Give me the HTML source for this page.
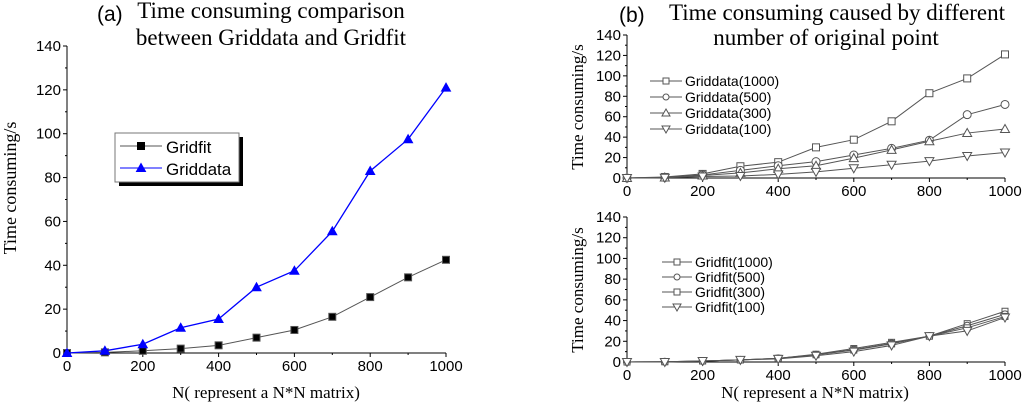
<!DOCTYPE html>
<html><head><meta charset="utf-8"><style>
body{margin:0;background:#fff;width:1024px;height:402px;overflow:hidden}
svg{display:block}
.s{font-family:"Liberation Sans",sans-serif}
.r{font-family:"Liberation Serif",serif}
</style></head><body>
<svg id="c" width="1024" height="402" viewBox="0 0 1024 402"></svg>
<script>
const xCats=[0,100,200,300,400,500,600,700,800,900,1000];
const xTicks=[0,200,400,600,800,1000];
const yTicks=[0,20,40,60,80,100,120,140];
const gridfitA=[0,0.3,1,2,3.5,7,10.5,16.5,25.5,34.5,42.5];
const griddataA=[0,1,4,11.5,15.5,30,37.5,55.5,83,97.5,121];
const gd1000=[0,1,4,11.5,15.5,30,37.5,55.5,83,97.5,121];
const gd500=[0,0.5,3,7.5,12,16,22.5,29,37,62,72];
const gd300=[0,0.5,2.5,5,9,12,19.5,27.5,36,44,48];
const gd100=[0,0.3,1.5,2,3.5,6,9.5,13,16.5,21.5,25];
const gf1000=[0,0.3,1,2,3.5,7.5,13,19,25,37,49];
const gf500=[0,0.3,1,2,3.5,7,12,18,25,35,46];
const gf300=[0,0.3,1,2,3.5,7,11.5,17.5,25,33,44];
const gf100=[0,0,1,2,3,6,10,16,25,30,43];

const svg=document.getElementById('c');
const NS='http://www.w3.org/2000/svg';
function el(t,a,p){const e=document.createElementNS(NS,t);for(const k in a)e.setAttribute(k,a[k]);(p||svg).appendChild(e);return e;}
function txt(x,y,s,cls,size,anchor,p){const e=el('text',{x:x,y:y,'font-size':size,'text-anchor':anchor||'middle',class:cls,fill:'#000'},p);e.textContent=s;return e;}

function panel(name,x0,x1,y0,y1){
  const g=el('g',{});
  
  
  const X=v=>x0+(x1-x0)*v/1000, Y=v=>y0-(y0-y1)*v/140;
  const ax=el('path',{d:`M${x0},${y1}V${y0}H${x1}`,stroke:'#000','stroke-width':1,fill:'none'},g);
  
  
  const fs=15;
  xTicks.forEach(v=>{el('line',{x1:X(v),x2:X(v),y1:y0,y2:y0+4,stroke:'#000'},g);
    const t=txt(X(v),y0+18,String(v),'s',fs,'middle',g);
    });
  for(let v=100;v<1000;v+=200)el('line',{x1:X(v),x2:X(v),y1:y0,y2:y0+2,stroke:'#000'},g);
  yTicks.forEach(v=>{el('line',{x1:x0-4,x2:x0,y1:Y(v),y2:Y(v),stroke:'#000'},g);
    const t=txt(x0-6,Y(v)+5,String(v),'s',fs,'end',g);
    });
  for(let v=10;v<140;v+=20)el('line',{x1:x0-2,x2:x0,y1:Y(v),y2:Y(v),stroke:'#000'},g);
  return {g,X,Y};
}
function marker(g,type,x,y,col,fill,sz){
  let m;
  if(type==='sq')m=el('rect',{x:x-sz,y:y-sz,width:2*sz,height:2*sz,fill:fill,stroke:col},g);
  else if(type==='ci')m=el('circle',{cx:x,cy:y,r:sz,fill:fill,stroke:col},g);
  else if(type==='up')m=el('path',{d:`M${x},${y-sz-1}L${x+sz+1},${y+sz}L${x-sz-1},${y+sz}Z`,fill:fill,stroke:col},g);
  else m=el('path',{d:`M${x},${y+sz+1}L${x+sz+1},${y-sz}L${x-sz-1},${y-sz}Z`,fill:fill,stroke:col},g);
  
  
}
function series(P,name,vals,col,type,fill,sz,w){
  const g=el('g',{},P.g);
  
  
  el('polyline',{points:xCats.map((c,i)=>P.X(c)+','+P.Y(vals[i])).join(' '),fill:'none',stroke:col,'stroke-width':w},g);
  xCats.forEach((c,i)=>marker(g,type,P.X(c),P.Y(vals[i]),col,fill,sz));
}

// Panel a
const A=panel('chart-a',67,446,353,46);
series(A,'series-gridfit',gridfitA,'#555','sq','#000',3.5,1);
series(A,'series-griddata',griddataA,'#0000ff','up','#0000ff',3.5,1.3);
let t=txt(97,21,'(a)','s',21,'start');
t=txt(271,18,'Time consuming comparison','r',23);
txt(271,45,'between Griddata and Gridfit','r',23);
t=txt(266,398,'N( represent a N*N matrix)','r',17);
t=el('text',{transform:'translate(16,188) rotate(-90)','text-anchor':'middle','font-size':18,class:'r'});t.textContent='Time consuming/s';

// legend a
const lg=el('g',{});
el('rect',{x:119,y:137,width:124,height:49,fill:'#000'},lg);
el('rect',{x:115,y:133,width:124,height:49,fill:'#fff',stroke:'#777'},lg);
el('line',{x1:120,x2:162,y1:146,y2:146,stroke:'#555'},lg);marker(lg,'sq',141,146,'#000','#000',3.5);
el('line',{x1:120,x2:162,y1:168,y2:168,stroke:'#0000ff'},lg);marker(lg,'up',141,168,'#0000ff','#0000ff',3.5);
txt(166,153,'Gridfit','s',17,'start',lg);txt(166,175,'Griddata','s',17,'start',lg);

// Panel b top
const B=panel('chart-b-top',627,1005,178,35);
series(B,'series-griddata-1000',gd1000,'#555','sq','#fff',3.5,1);
series(B,'series-griddata-500',gd500,'#555','ci','#fff',4,1);
series(B,'series-griddata-300',gd300,'#555','up','#fff',3.5,1);
series(B,'series-griddata-100',gd100,'#555','dn','#fff',3.5,1);
t=txt(619,22,'(b)','s',21,'start');
t=txt(837,20,'Time consuming caused by  different','r',23);
txt(826,45,'number of original  point','r',23);
t=el('text',{transform:'translate(583,107) rotate(-90)','text-anchor':'middle','font-size':17,class:'r'});t.textContent='Time consuming/s';

const lb=el('g',{});
[['sq','Griddata(1000)'],['ci','Griddata(500)'],['up','Griddata(300)'],['dn','Griddata(100)']].forEach((e,i)=>{
  const y=81+16*i;el('line',{x1:650,x2:682,y1:y,y2:y,stroke:'#555'},lb);marker(lb,e[0],666,y,'#555','#fff',3);
  txt(685,y+5,e[1],'s',14,'start',lb);});

// Panel b bottom
const C=panel('chart-b-bottom',627,1005,362,217);
series(C,'series-gridfit-1000',gf1000,'#555','sq','#fff',3,1);
series(C,'series-gridfit-500',gf500,'#555','ci','#fff',3.5,1);
series(C,'series-gridfit-300',gf300,'#555','sq','#fff',3,1);
series(C,'series-gridfit-100',gf100,'#555','dn','#fff',3.5,1);
t=el('text',{transform:'translate(583,290) rotate(-90)','text-anchor':'middle','font-size':17,class:'r'});t.textContent='Time consuming/s';

t=txt(815,398,'N( represent a N*N matrix)','r',17);
const lc=el('g',{});
[['sq','Gridfit(1000)'],['ci','Gridfit(500)'],['sq','Gridfit(300)'],['dn','Gridfit(100)']].forEach((e,i)=>{
  const y=262+15*i;el('line',{x1:662,x2:692,y1:y,y2:y,stroke:'#555'},lc);marker(lc,e[0],677,y,'#555','#fff',3);
  txt(695,y+5,e[1],'s',14,'start',lc);});
</script>
</body></html>
